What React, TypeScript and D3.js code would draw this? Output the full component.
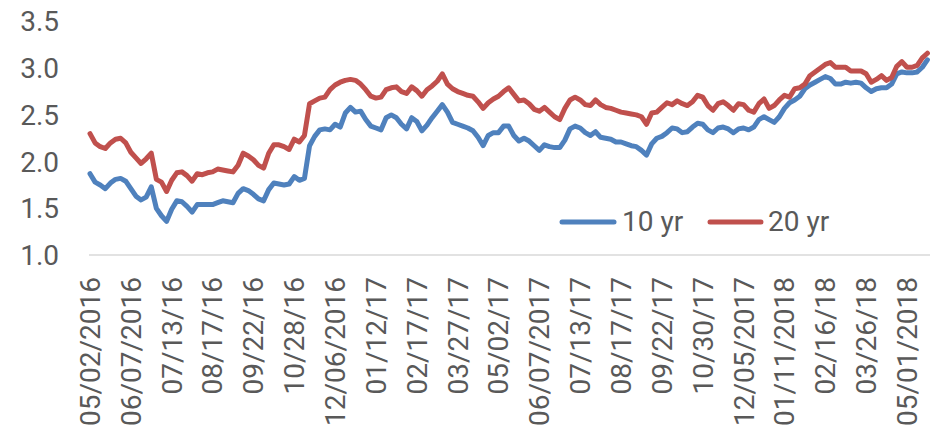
import React from "react";
import * as d3 from "d3";

const tickLabels = [
  "05/02/2016", "06/07/2016", "07/13/16", "08/17/16", "09/22/16", "10/28/16",
  "12/06/2016", "01/12/17", "02/17/17", "03/27/17", "05/02/17", "06/07/2017",
  "07/13/17", "08/17/17", "09/22/17", "10/30/17", "12/05/2017", "01/11/2018",
  "02/16/18", "03/26/18", "05/01/2018",
];

const tenYr = [
  1.87, 1.78, 1.75, 1.71, 1.77, 1.81, 1.82, 1.79, 1.71, 1.63,
  1.59, 1.62, 1.73, 1.50, 1.42, 1.36, 1.49, 1.58, 1.57, 1.52,
  1.46, 1.54, 1.54, 1.54, 1.54, 1.56, 1.58, 1.57, 1.56, 1.66,
  1.71, 1.69, 1.65, 1.60, 1.58, 1.70, 1.77, 1.76, 1.75, 1.76,
  1.84, 1.80, 1.82, 2.17, 2.27, 2.34, 2.35, 2.34, 2.40, 2.37,
  2.52, 2.58, 2.53, 2.54, 2.45, 2.38, 2.36, 2.34, 2.47, 2.50,
  2.47, 2.40, 2.35, 2.47, 2.43, 2.33, 2.39, 2.47, 2.54, 2.61,
  2.53, 2.42, 2.40, 2.38, 2.36, 2.33, 2.26, 2.17, 2.28, 2.31,
  2.31, 2.38, 2.38, 2.28, 2.22, 2.25, 2.22, 2.17, 2.12, 2.18,
  2.16, 2.15, 2.15, 2.23, 2.35, 2.38, 2.36, 2.31, 2.28, 2.32,
  2.26, 2.25, 2.24, 2.21, 2.21, 2.19, 2.17, 2.16, 2.12, 2.07,
  2.19, 2.25, 2.27, 2.31, 2.36, 2.35, 2.31, 2.32, 2.37, 2.41,
  2.40, 2.34, 2.31, 2.36, 2.37, 2.35, 2.31, 2.35, 2.36, 2.34,
  2.37, 2.45, 2.48, 2.45, 2.42, 2.48, 2.57, 2.63, 2.66, 2.70,
  2.78, 2.82, 2.85, 2.88, 2.91, 2.89, 2.83, 2.83, 2.85, 2.84,
  2.85, 2.84, 2.79, 2.75, 2.78, 2.79, 2.79, 2.83, 2.94, 2.96,
  2.95, 2.95, 2.96, 3.01, 3.09,
];

const twentyYr = [
  2.30, 2.20, 2.16, 2.14, 2.20, 2.24, 2.25, 2.20, 2.10, 2.04,
  1.98, 2.03, 2.09, 1.81, 1.78, 1.68, 1.80, 1.88, 1.89, 1.85,
  1.79, 1.87, 1.86, 1.88, 1.89, 1.92, 1.91, 1.90, 1.89, 1.96,
  2.09, 2.06, 2.02, 1.96, 1.93, 2.09, 2.18, 2.18, 2.16, 2.13,
  2.24, 2.21, 2.28, 2.62, 2.65, 2.68, 2.69, 2.77, 2.82, 2.85,
  2.87, 2.88, 2.87, 2.83, 2.77, 2.70, 2.68, 2.69, 2.77, 2.79,
  2.80, 2.75, 2.73, 2.80, 2.76, 2.70, 2.77, 2.81, 2.86, 2.94,
  2.83, 2.78, 2.75, 2.73, 2.71, 2.70, 2.64, 2.57, 2.63, 2.67,
  2.70, 2.75, 2.79, 2.72, 2.65, 2.66, 2.62, 2.56, 2.54, 2.58,
  2.53, 2.48, 2.45, 2.57, 2.66, 2.69, 2.66, 2.61, 2.60, 2.66,
  2.61, 2.58, 2.57, 2.55, 2.53, 2.52, 2.51, 2.50, 2.48, 2.40,
  2.52, 2.53, 2.58, 2.63, 2.61, 2.65, 2.62, 2.60, 2.64, 2.71,
  2.69, 2.60, 2.55, 2.62, 2.64, 2.60, 2.55, 2.62, 2.61, 2.55,
  2.53, 2.62, 2.67, 2.57, 2.60, 2.66, 2.71, 2.69, 2.78, 2.79,
  2.83, 2.92, 2.96, 3.00, 3.04, 3.06, 3.01, 3.01, 3.01, 2.97,
  2.97, 2.97, 2.94, 2.85, 2.88, 2.92, 2.87, 2.90, 3.02, 3.07,
  3.01, 3.01, 3.03, 3.11, 3.16,
];

const yTicks = [1.0, 1.5, 2.0, 2.5, 3.0, 3.5];
const seriesNames = ["10 yr", "20 yr"];
const colors = ["#4F81BD", "#C0504D"];
const TICK_EVERY = 8;

const W = 930;
const H = 435;
const FONT = "Roboto, 'Liberation Sans', sans-serif";

export default function App() {
  const n = tenYr.length;
  const x = d3.scaleLinear().domain([0, n - 1]).range([90, 927.4]);
  const y = d3.scaleLinear().domain([1, 3.5]).range([255, 21.5]);
  const line = d3
    .line<number>()
    .x((_, i) => x(i))
    .y((d) => y(d));
  const series = [tenYr, twentyYr];

  return (
    <svg
      width={W}
      height={H}
      style={{ position: "absolute", left: 0, top: 0, background: "#fff" }}
      fontFamily={FONT}
    >
      {yTicks.map((t) => (
        <text
          key={t}
          x={59}
          y={y(t)}
          dy="0.355em"
          textAnchor="end"
          fontSize={28}
          fill="#595959"
        >
          {t.toFixed(1)}
        </text>
      ))}
      <line x1={89} x2={930} y1={y(1)} y2={y(1)} stroke="#d9d9d9" strokeWidth={1.5} />
      {tickLabels.map((lab, k) => {
        const cx = x(k * TICK_EVERY);
        return (
          <text
            key={lab}
            transform={`translate(${cx},277) rotate(-90)`}
            dy="0.355em"
            textAnchor="end"
            fontSize={28}
            fill="#595959"
          >
            {lab}
          </text>
        );
      })}
      {series.map((s, i) => (
        <path
          key={seriesNames[i]}
          d={line(s) || ""}
          fill="none"
          stroke={colors[i]}
          strokeWidth={5}
          strokeLinejoin="round"
          strokeLinecap="round"
        />
      ))}
      <g>
        <line x1={562} x2={614} y1={222} y2={222} stroke={colors[0]} strokeWidth={5} strokeLinecap="round" />
        <text x={622} y={230.5} fontSize={28} fill="#595959">{seriesNames[0]}</text>
        <line x1={710} x2={761} y1={222} y2={222} stroke={colors[1]} strokeWidth={5} strokeLinecap="round" />
        <text x={768} y={230.5} fontSize={28} fill="#595959">{seriesNames[1]}</text>
      </g>
    </svg>
  );
}
